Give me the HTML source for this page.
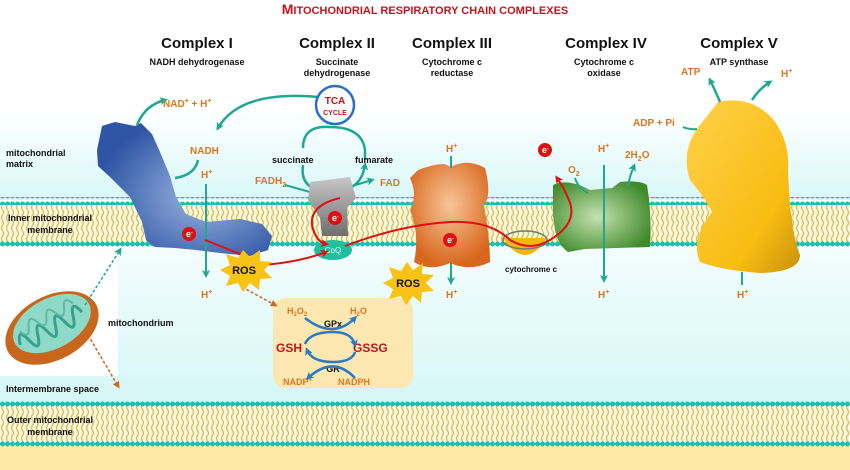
<!DOCTYPE html>
<html><head><meta charset="utf-8"><style>
html,body{margin:0;padding:0;background:#fff}
svg{display:block}
text{font-family:"Liberation Sans",sans-serif;font-weight:bold}
.o{fill:#d9771f;font-size:10px}
.k{fill:#111;font-size:9px}
.t{fill:#111;font-size:15px}
.r{fill:#c0161e}
</style></head><body>
<svg width="850" height="470" viewBox="0 0 850 470" xmlns="http://www.w3.org/2000/svg">
<defs>
<linearGradient id="bg" x1="0" y1="0" x2="0" y2="1">
<stop offset="0" stop-color="#ffffff"/><stop offset="1" stop-color="#d8f7f8"/></linearGradient>
<linearGradient id="bg2" x1="0" y1="0" x2="0" y2="1">
<stop offset="0" stop-color="#f4fdfd"/><stop offset="1" stop-color="#d6f6f6"/></linearGradient>
<pattern id="lip" width="5" height="21" patternUnits="userSpaceOnUse">
<rect width="5" height="21" fill="#fbf6dc"/>
<path d="M2.5,0 q2,2.6 0,5.2 q-2,2.6 0,5.2 q2,2.6 0,5.2 q-2,2.6 0,5.2" stroke="#d2c366" stroke-width="1.4" fill="none"/>
</pattern>
<pattern id="dots" width="5" height="8" patternUnits="userSpaceOnUse">
<rect y="3" width="5" height="2" fill="#1fbfae"/><circle cx="2.5" cy="4" r="2.5" fill="#1fbfae"/>
</pattern>
<radialGradient id="gb" cx="0.6" cy="0.55" r="0.6"><stop offset="0" stop-color="#9bb5e0"/><stop offset="1" stop-color="#2f55a5"/></radialGradient>
<radialGradient id="go" cx="0.5" cy="0.4" r="0.6"><stop offset="0" stop-color="#f7c69a"/><stop offset="1" stop-color="#d8661c"/></radialGradient>
<radialGradient id="gg" cx="0.45" cy="0.5" r="0.6"><stop offset="0" stop-color="#c6e2b0"/><stop offset="1" stop-color="#3f8a2a"/></radialGradient>
<linearGradient id="gy" x1="0" y1="0" x2="1" y2="1"><stop offset="0" stop-color="#ffd24a"/><stop offset="0.7" stop-color="#f8bc12"/><stop offset="1" stop-color="#c8920a"/></linearGradient>
<linearGradient id="gr" x1="0" y1="0" x2="0" y2="1"><stop offset="0" stop-color="#c8c8c8"/><stop offset="1" stop-color="#6e6e6e"/></linearGradient>
<marker id="at" markerWidth="8" markerHeight="8" refX="5" refY="4" orient="auto" markerUnits="userSpaceOnUse"><path d="M0,0 L8,4 L0,8 L2,4z" fill="#1fa890"/></marker>
<marker id="ar" markerWidth="8" markerHeight="8" refX="5" refY="4" orient="auto" markerUnits="userSpaceOnUse"><path d="M0,0 L8,4 L0,8 L2,4z" fill="#e01010"/></marker>
<marker id="ab" markerWidth="8" markerHeight="8" refX="5" refY="4" orient="auto" markerUnits="userSpaceOnUse"><path d="M0,0 L8,4 L0,8 L2,4z" fill="#2a7ac8"/></marker>
<marker id="ao" markerWidth="7" markerHeight="7" refX="4" refY="3.5" orient="auto" markerUnits="userSpaceOnUse"><path d="M0,0 L7,3.5 L0,7z" fill="#c9671f"/></marker>
</defs>
<rect width="850" height="470" fill="#fff"/>
<rect y="110" width="850" height="90" fill="url(#bg)"/>
<rect y="244" width="850" height="160" fill="url(#bg2)"/>
<rect x="0" y="244" width="118" height="132" fill="#fff"/>
<rect y="446" width="850" height="24" fill="#fee8a6"/>
<rect y="202" width="850" height="40" fill="url(#lip)"/>
<rect y="197" width="850" height="8" fill="url(#dots)"/>
<rect y="239" width="850" height="8" fill="url(#dots)"/>
<rect y="404" width="850" height="40" fill="url(#lip)"/>
<rect y="399" width="850" height="8" fill="url(#dots)"/>
<rect y="441" width="850" height="8" fill="url(#dots)"/>

<text x="425" y="14" text-anchor="middle" class="r" style="font-size:14px">M<tspan style="font-size:11px">ITOCHONDRIAL RESPIRATORY CHAIN COMPLEXES</tspan></text>

<text x="197" y="48" text-anchor="middle" class="t">Complex I</text>
<text x="337" y="48" text-anchor="middle" class="t">Complex II</text>
<text x="452" y="48" text-anchor="middle" class="t">Complex III</text>
<text x="606" y="48" text-anchor="middle" class="t">Complex IV</text>
<text x="739" y="48" text-anchor="middle" class="t">Complex V</text>
<text x="197" y="65" text-anchor="middle" class="k">NADH dehydrogenase</text>
<text x="337" y="65" text-anchor="middle" class="k">Succinate</text>
<text x="337" y="76" text-anchor="middle" class="k">dehydrogenase</text>
<text x="452" y="65" text-anchor="middle" class="k">Cytochrome c</text>
<text x="452" y="76" text-anchor="middle" class="k">reductase</text>
<text x="604" y="65" text-anchor="middle" class="k">Cytochrome c</text>
<text x="604" y="76" text-anchor="middle" class="k">oxidase</text>
<text x="739" y="65" text-anchor="middle" class="k">ATP synthase</text>

<text x="6" y="156" class="k">mitochondrial</text>
<text x="6" y="167" class="k">matrix</text>
<text x="50" y="221" text-anchor="middle" class="k">Inner mitochondrial</text>
<text x="50" y="233" text-anchor="middle" class="k">membrane</text>
<text x="108" y="326" class="k">mitochondrium</text>
<text x="6" y="392" class="k">Intermembrane space</text>
<text x="50" y="423" text-anchor="middle" class="k">Outer mitochondrial</text>
<text x="50" y="435" text-anchor="middle" class="k">membrane</text>

<g transform="rotate(-28 52 328)">
<ellipse cx="52" cy="328" rx="50" ry="32" fill="#c8661c"/>
<ellipse cx="54" cy="324" rx="42" ry="25" fill="#8fd9c8"/>
<path d="M16,328 q5,-18 10,0 q5,18 10,0 q5,-18 10,0 q5,18 10,0 q5,-18 10,0 q5,18 10,0 q5,-18 10,0" stroke="#3aa08e" stroke-width="3" fill="none"/>
<path d="M22,316 q5,12 10,0 q5,-12 10,0 q5,12 10,0 q5,-12 10,0 q5,12 10,0 q5,-12 10,0" stroke="#5fb8a5" stroke-width="2" fill="none"/>
</g>
<path d="M85,305 L120,250" stroke="#1fa890" stroke-width="1.5" stroke-dasharray="3,2" marker-end="url(#at)"/>
<path d="M88,335 L118,386" stroke="#c9671f" stroke-width="1.5" stroke-dasharray="3,2" marker-end="url(#ao)"/>

<rect x="273" y="298" width="140" height="90" rx="12" fill="#fde7b0"/>
<text x="287" y="314" class="o" style="font-size:9px">H<tspan font-size="6" dy="2">2</tspan><tspan dy="-2">O</tspan><tspan font-size="6" dy="2">2</tspan></text>
<text x="350" y="314" class="o" style="font-size:9px">H<tspan font-size="6" dy="2">2</tspan><tspan dy="-2">O</tspan></text>
<text x="333" y="327" text-anchor="middle" class="k">GPx</text>
<text x="333" y="372" text-anchor="middle" class="k">GR</text>
<text x="276" y="352" class="r" style="font-size:12px">GSH</text>
<text x="353" y="352" class="r" style="font-size:12px">GSSG</text>
<text x="283" y="385" class="o" style="font-size:9px">NADP<tspan font-size="6" dy="-3">+</tspan></text>
<text x="338" y="385" class="o" style="font-size:9px">NADPH</text>
<path d="M305,318 Q333,340 355,318" stroke="#2a7ac8" stroke-width="2.5" fill="none" marker-end="url(#ab)"/>
<path d="M305,344 Q310,332 333,332 Q352,332 355,345" stroke="#2a7ac8" stroke-width="2.5" fill="none" marker-end="url(#ab)"/>
<path d="M355,352 Q352,362 333,362 Q312,362 307,350" stroke="#2a7ac8" stroke-width="2.5" fill="none" marker-end="url(#ab)"/>
<path d="M355,378 Q333,355 308,378" stroke="#2a7ac8" stroke-width="2.5" fill="none" marker-end="url(#ab)"/>
<path d="M242,287 L275,305" stroke="#c9671f" stroke-width="1.5" stroke-dasharray="3,2" marker-end="url(#ao)"/>

<path d="M97,150 L102,126 L115,122 L135,126 L141,123 L152,134 L160,152 L170,176 L176,197 L186,214 L206,222 L240,219 L262,224 L272,236 L268,250 L250,256 L220,253 L196,250 L175,248 L155,247 L146,240 L142,222 L130,197 L110,177 L98,166Z" fill="url(#gb)"/>
<path d="M137,125 Q145,105 165,100" stroke="#1fa890" stroke-width="2.5" fill="none" marker-end="url(#at)"/>
<text x="163" y="107" class="o">NAD<tspan font-size="7" dy="-4">+</tspan><tspan dy="4"> + H</tspan><tspan font-size="7" dy="-4">+</tspan></text>
<text x="190" y="154" class="o">NADH</text>
<path d="M198,160 Q195,175 175,178" stroke="#1fa890" stroke-width="2.5" fill="none"/>
<text x="201" y="178" class="o">H<tspan font-size="7" dy="-4">+</tspan></text>
<path d="M206,184 L206,275" stroke="#1fa890" stroke-width="2" marker-end="url(#at)"/>
<text x="201" y="298" class="o">H<tspan font-size="7" dy="-4">+</tspan></text>
<path d="M318,97 Q240,90 218,128" stroke="#1fa890" stroke-width="2.5" fill="none" marker-end="url(#at)"/>

<circle cx="335" cy="105" r="19" fill="#fff" stroke="#2a6fc6" stroke-width="2.5"/>
<text x="335" y="104" text-anchor="middle" class="r" style="font-size:10px">TCA</text>
<text x="335" y="115" text-anchor="middle" class="r" style="font-size:7px">CYCLE</text>
<path d="M303,148 Q303,125 330,127 Q362,127 365,150 L365,160" stroke="#1fa890" stroke-width="2.5" fill="none"/>
<path d="M303,165 Q300,185 318,190" stroke="#1fa890" stroke-width="2.5" fill="none"/>
<path d="M345,190 Q362,185 365,165" stroke="#1fa890" stroke-width="2.5" fill="none" marker-end="url(#at)"/>
<text x="272" y="163" class="k">succinate</text>
<text x="355" y="163" class="k">fumarate</text>
<text x="255" y="184" class="o">FADH<tspan font-size="7" dy="3">2</tspan></text>
<path d="M285,185 L310,192" stroke="#1fa890" stroke-width="2"/>
<path d="M352,186 L372,180" stroke="#1fa890" stroke-width="2" marker-end="url(#at)"/>
<text x="380" y="186" class="o">FAD</text>

<path d="M310,182 L350,177 L356,198 L347,208 L348,236 L322,236 L320,218 L308,200Z" fill="url(#gr)"/>
<ellipse cx="333" cy="250" rx="19" ry="10" fill="#1fbf9e"/>
<text x="333" y="253" text-anchor="middle" style="fill:#e8fff8;font-size:8px;font-weight:normal">CoQ</text>

<path d="M418,170 Q445,160 450,167 Q468,158 485,168 Q492,195 484,205 Q490,240 490,262 Q470,272 450,263 Q430,272 414,262 Q420,235 410,210 Q418,195 410,178Z" fill="url(#go)"/>
<path d="M451,156 L451,168" stroke="#1fa890" stroke-width="2"/>
<text x="446" y="152" class="o">H<tspan font-size="7" dy="-4">+</tspan></text>
<path d="M451,263 L451,282" stroke="#1fa890" stroke-width="2" marker-end="url(#at)"/>
<text x="446" y="298" class="o">H<tspan font-size="7" dy="-4">+</tspan></text>

<path d="M503,238 Q525,272 547,238Z" fill="#f2b80c"/>
<ellipse cx="525" cy="240" rx="22" ry="9" fill="none" stroke="#777" stroke-width="1.5"/>
<text x="505" y="272" class="k" style="font-size:8px">cytochrome c</text>

<path d="M553,185 Q568,178 590,190 L612,188 L620,182 Q640,180 647,185 Q652,215 650,247 L585,249 L568,252 Q558,245 555,230 L553,215Z" fill="url(#gg)"/>
<text x="568" y="173" class="o">O<tspan font-size="7" dy="3">2</tspan></text>
<path d="M575,178 Q578,188 588,193" stroke="#1fa890" stroke-width="2" fill="none"/>
<text x="598" y="152" class="o">H<tspan font-size="7" dy="-4">+</tspan></text>
<path d="M604,165 L604,280" stroke="#1fa890" stroke-width="2" marker-end="url(#at)"/>
<text x="598" y="298" class="o">H<tspan font-size="7" dy="-4">+</tspan></text>
<text x="625" y="158" class="o">2H<tspan font-size="7" dy="3">2</tspan><tspan dy="-3">O</tspan></text>
<path d="M628,186 Q630,175 634,166" stroke="#1fa890" stroke-width="2" fill="none" marker-end="url(#at)"/>

<path d="M718,102 Q750,95 772,118 Q790,140 788,170 Q790,230 800,255 Q800,272 760,273 Q720,270 700,262 Q690,240 712,212 Q705,198 690,180 Q680,150 700,125Z" fill="url(#gy)"/>
<path d="M720,102 Q715,90 710,80" stroke="#1fa890" stroke-width="2.5" fill="none" marker-end="url(#at)"/>
<path d="M752,100 Q760,88 770,82" stroke="#1fa890" stroke-width="2.5" fill="none" marker-end="url(#at)"/>
<text x="681" y="75" class="o">ATP</text>
<text x="781" y="77" class="o">H<tspan font-size="7" dy="-4">+</tspan></text>
<text x="633" y="126" class="o">ADP + Pi</text>
<path d="M683,127 Q690,130 697,129" stroke="#1fa890" stroke-width="2" fill="none"/>
<path d="M742,272 L742,285" stroke="#1fa890" stroke-width="2"/>
<text x="737" y="298" class="o">H<tspan font-size="7" dy="-4">+</tspan></text>

<path d="M205,240 L250,258" stroke="#e01010" stroke-width="2"/>
<path d="M263,265 Q300,262 326,252" stroke="#e01010" stroke-width="2" fill="none" marker-end="url(#ar)"/>
<path d="M340,198 Q310,205 312,225 Q316,242 326,244" stroke="#e01010" stroke-width="2" fill="none" marker-end="url(#ar)"/>
<path d="M345,246 Q400,225 450,222 Q490,220 510,240 Q530,252 550,240 Q580,222 568,198 Q564,188 557,178" stroke="#e01010" stroke-width="2" fill="none" marker-end="url(#ar)"/>
<g style="font-size:9px">
<circle cx="189" cy="234" r="7" fill="#e01010"/><text x="186" y="237" fill="#fff">e<tspan font-size="5" dy="-3">-</tspan></text>
<circle cx="335" cy="218" r="7" fill="#e01010"/><text x="332" y="221" fill="#fff">e<tspan font-size="5" dy="-3">-</tspan></text>
<circle cx="450" cy="240" r="7" fill="#e01010"/><text x="447" y="243" fill="#fff">e<tspan font-size="5" dy="-3">-</tspan></text>
<circle cx="545" cy="150" r="7" fill="#e01010"/><text x="542" y="153" fill="#fff">e<tspan font-size="5" dy="-3">-</tspan></text>
</g>

<polygon points="243,250 250,257 260,250 260,261 272,262 264,270 272,278 260,279 259,290 250,283 243,292 238,283 226,286 230,276 220,270 230,265 226,254 238,258" fill="#f8c316"/>
<text x="244" y="274" text-anchor="middle" class="k" style="font-size:11px">ROS</text>
<polygon points="407,262 413,270 423,263 422,274 434,275 426,283 434,291 422,292 421,303 413,296 406,305 401,296 389,299 393,289 383,283 393,278 389,267 401,271" fill="#f8c316"/>
<text x="408" y="287" text-anchor="middle" class="k" style="font-size:11px">ROS</text>
</svg>
</body></html>
